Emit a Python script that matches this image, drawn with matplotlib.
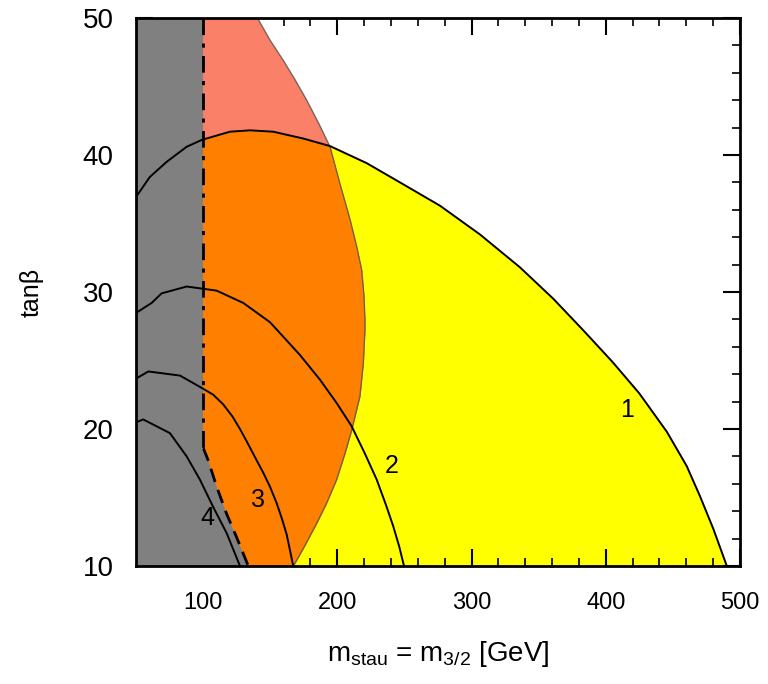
import numpy as np
import matplotlib
matplotlib.use("Agg")
import matplotlib.pyplot as plt
from matplotlib.patches import Polygon
from matplotlib.ticker import MultipleLocator

plt.rcParams['font.family'] = ['Liberation Sans', 'DejaVu Sans']
plt.rcParams['mathtext.fontset'] = 'custom'
plt.rcParams['mathtext.rm'] = 'Liberation Sans'

# contour 1 (upper edge of the yellow region)
c1_x = [50, 50.5, 60.4, 72.9, 87.8, 99, 120, 135, 152.3, 174.7, 194.6, 222, 246.7,
        276.5, 306.3, 336.1, 361, 383.3, 405, 425, 445.5, 460.3, 470.2, 480.2, 490.2]
c1_y = [36.3, 37.0, 38.4, 39.5, 40.6, 41.1, 41.7, 41.8, 41.7, 41.2, 40.65, 39.4, 38.0,
        36.3, 34.2, 31.8, 29.5, 27.2, 24.9, 22.6, 19.8, 17.3, 15.1, 12.7, 10]

# contour 2
c2_x = [50, 50.5, 61.7, 69.1, 87.8, 110.1, 130, 149.8, 157.3, 172.2, 187.1, 199.5,
        210.7, 220.6, 229.4, 236.3, 241.7, 246.2, 249.7]
c2_y = [28.2, 28.5, 29.2, 29.9, 30.4, 30.1, 29.2, 27.8, 27.0, 25.4, 23.6, 21.9,
        20.2, 18.2, 16.3, 14.45, 12.9, 11.4, 10]

# contour 3
c3_x = [50, 50.5, 59.2, 82.8, 99, 107.6, 115, 122, 127.5, 132.5, 140, 144.9, 149.8,
        154.8, 158.6, 162.3, 167.2]
c3_y = [23.6, 23.7, 24.2, 23.9, 23.0, 22.5, 21.8, 20.9, 20.0, 19.1, 17.7, 16.8, 15.8,
        14.6, 13.5, 12.3, 10]

# contour 4
c4_x = [50, 50.5, 55.4, 75.3, 87.8, 97.7, 107.6, 117.6, 127.5]
c4_y = [20.4, 20.5, 20.7, 19.7, 18.0, 16.3, 14.3, 12.4, 10]

# boundary of the salmon region (x as a function of tan beta)
sb_y = [10, 10.2, 11.5, 13.1, 14.6, 16.3, 18.2, 19.9, 22.4, 24.8, 27.2, 28.0, 29.7,
        31.6, 33.3, 35.3, 37.9, 40.6, 42.3, 44.0, 45.5, 46.9, 48.4, 50]
sb_x = [167, 168.5, 175.9, 184.6, 192.1, 199.5, 205.7, 210.7, 216.9, 219.4, 220.6,
        220.6, 219.9, 218.2, 214.5, 209.5, 202, 194.6, 186.2, 177.2, 168.5, 159.8,
        149.8, 140.5]

# excluded (gray) boundary: vertical at 100, then dashed curve
gv_y = [50, 18.6]
gd_x = [100, 100.2, 103.9, 110.1, 117.6, 125, 133.7]
gd_y = [18.6, 18.6, 17.7, 15.8, 13.8, 12.1, 10]

labels = ['1', '2', '3', '4']
label_x = [415.9, 240.8, 140.9, 102.9]
label_y = [21.4, 17.3, 14.8, 13.5]

fig = plt.figure(figsize=(7.68, 6.84), dpi=100)
ax = fig.add_axes([0.177, 0.1725, 0.7865, 0.8012])

# yellow: below contour 1
yellow = Polygon(list(zip(c1_x, c1_y)) + [(50, 10)], closed=True,
                 facecolor='#ffff00', edgecolor='none', zorder=1)
ax.add_patch(yellow)

# salmon region and its overlap with yellow (orange)
ax.fill_betweenx(sb_y, 50, sb_x, color='#fa8068', lw=0, zorder=2)
orange = ax.fill_betweenx(sb_y, 50, sb_x, color='#ff8000', lw=0, zorder=3)
orange.set_clip_path(yellow)
ax.plot(sb_x, sb_y, color='#555555', lw=1.0, alpha=0.8, zorder=4)

# gray excluded region
gx = [50, 50, 100] + gd_x
gy = [10, 50, 50] + gd_y
ax.fill(gx, gy, color='#808080', lw=0, zorder=5)
ax.plot([100, 100], gv_y, color='black', lw=2, ls='-.', dashes=(6, 3, 1.5, 3), zorder=7)
ax.plot(gd_x, gd_y, color='black', lw=2, ls='--', dashes=(5, 3), zorder=7)

for cx, cy in [(c1_x, c1_y), (c2_x, c2_y), (c3_x, c3_y), (c4_x, c4_y)]:
    ax.plot(cx, cy, color='black', lw=1.4, zorder=6, solid_joinstyle='round')

for t, lx, ly in zip(labels, label_x, label_y):
    ax.text(lx, ly, t, fontsize=18, ha='center', va='center', zorder=8)

ax.set_xlim(50, 500)
ax.set_ylim(10, 50)
ax.xaxis.set_major_locator(MultipleLocator(100))
ax.xaxis.set_minor_locator(MultipleLocator(20))
ax.yaxis.set_major_locator(MultipleLocator(10))
ax.yaxis.set_minor_locator(MultipleLocator(2))
ax.tick_params(which='both', direction='in', top=True, right=True)
ax.tick_params(which='major', length=12, width=1.5)
ax.tick_params(which='minor', length=6, width=1.2)
ax.tick_params(axis='x', which='major', labelsize=17, pad=19)
ax.tick_params(axis='y', which='major', labelsize=20, pad=16)
for s in ax.spines.values():
    s.set_linewidth(2)
    s.set_zorder(10)

ax.set_xlabel(r'm$_{\mathrm{stau}}$ = m$_{\mathrm{3/2}}$ [GeV]', fontsize=20, labelpad=18)
ax.set_ylabel('tanβ', fontsize=18, labelpad=28)

fig.savefig('out.png', dpi=100)
